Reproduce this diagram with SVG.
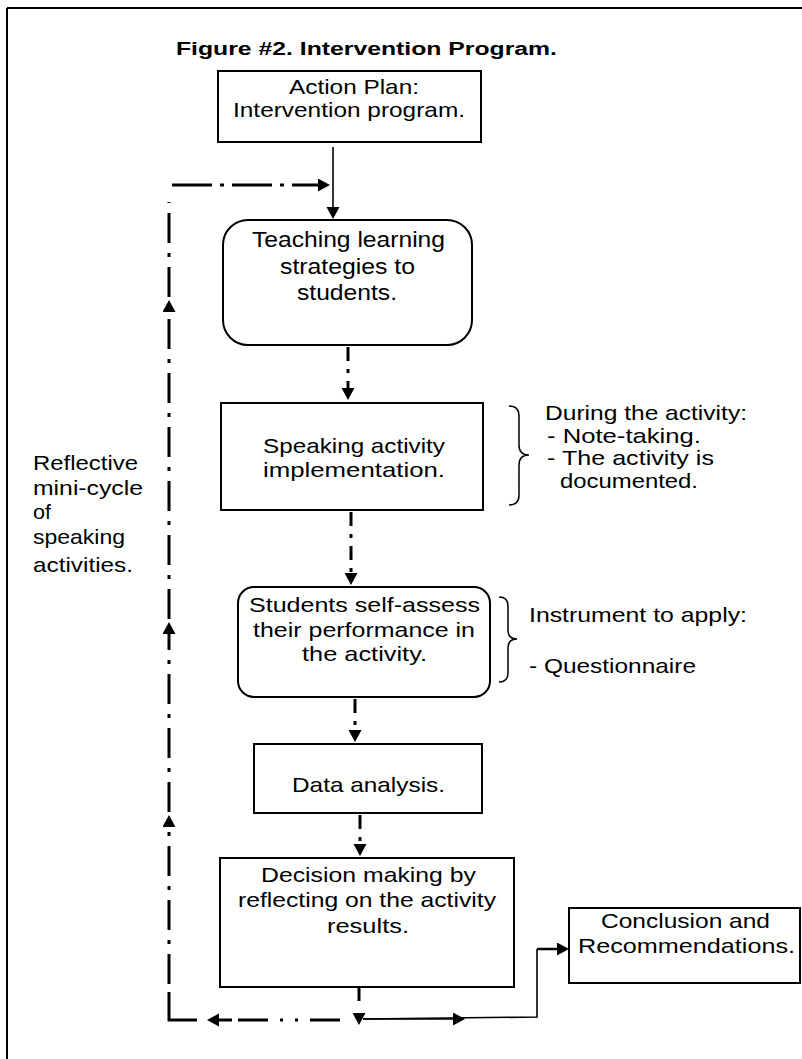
<svg xmlns="http://www.w3.org/2000/svg" width="802" height="1059" viewBox="0 0 802 1059">
<style>
.t{font-family:"Liberation Sans",Arial,sans-serif;font-size:21px;fill:#000}
.b{font-weight:bold;font-size:18px}
.box{fill:#fff;stroke:#000;stroke-width:2}
.dd{fill:none;stroke:#000;stroke-width:3;stroke-dasharray:30 10 4 10}
.dm{fill:none;stroke:#000;stroke-width:3;stroke-dasharray:14 8 4 8}
.sl{fill:none;stroke:#000;stroke-width:1.6}
.br{fill:none;stroke:#000;stroke-width:1.5}
</style>
<defs>
<marker id="ah" markerUnits="userSpaceOnUse" markerWidth="14" markerHeight="14" refX="4" refY="6.5" orient="auto">
<path d="M0,0 L12,6.5 L0,13 z" fill="#000"/>
</marker>
</defs>
<g id="frame">
<line x1="7" y1="8" x2="802" y2="8" stroke="#000" stroke-width="2"/>
<line x1="7" y1="8" x2="7" y2="1059" stroke="#000" stroke-width="2"/>
</g>
<text class="t b" x="176" y="55" textLength="381" lengthAdjust="spacingAndGlyphs">Figure #2. Intervention Program.</text>
<g id="connectors">
<path class="sl" d="M333 147 V211" marker-end="url(#ah)"/>
<path class="dd" d="M172 185 H322" marker-end="url(#ah)" style="stroke-dasharray:40 8 4 8"/>
<path class="dm" d="M348 347 V392" marker-end="url(#ah)"/>
<path class="dm" d="M351 512 V577" marker-end="url(#ah)"/>
<path class="dm" d="M355 699 V734" marker-end="url(#ah)"/>
<path class="dm" d="M360 815 V848" marker-end="url(#ah)"/>
<path class="dm" d="M359 988 V1017" marker-end="url(#ah)" style="stroke-dasharray:13 30"/>
<path class="dd" d="M340 1020 H238" style="stroke-dasharray:30 12 3 12 3 12 30"/>
<path class="dd" d="M232 1020 H215" marker-end="url(#ah)" style="stroke-dasharray:none"/>
<path fill="none" stroke="#000" stroke-width="3" d="M197 1020 H169 V992"/>
<path class="dd" d="M169 984 V823" marker-end="url(#ah)"/>
<path class="dd" d="M169 812 V630" marker-end="url(#ah)"/>
<path class="dd" d="M169 619 V308" marker-end="url(#ah)"/>
<path class="dd" d="M169 297 V202"/>
<path class="sl" d="M363 1019 L537 1017 V949"/>
<path class="sl" d="M363 1019 H457" marker-end="url(#ah)"/>
<path fill="none" stroke="#000" stroke-width="2.5" d="M537 949 H561" marker-end="url(#ah)"/>
</g>
<g id="action-plan">
<rect class="box" x="218" y="71" width="263" height="71"/>
<text class="t" x="289" y="94" textLength="130" lengthAdjust="spacingAndGlyphs">Action Plan:</text>
<text class="t" x="233" y="117" textLength="232" lengthAdjust="spacingAndGlyphs">Intervention program.</text>
</g>
<g id="teaching">
<rect class="box" x="223" y="220" width="249" height="125" rx="25"/>
<text class="t" style="font-size:22px" x="252" y="247" textLength="193" lengthAdjust="spacingAndGlyphs">Teaching learning</text>
<text class="t" style="font-size:22px" x="280" y="274" textLength="135" lengthAdjust="spacingAndGlyphs">strategies to</text>
<text class="t" style="font-size:22px" x="297" y="300" textLength="100" lengthAdjust="spacingAndGlyphs">students.</text>
</g>
<g id="speaking">
<rect class="box" x="221" y="403" width="262" height="107"/>
<text class="t" x="263" y="453" textLength="182" lengthAdjust="spacingAndGlyphs">Speaking activity</text>
<text class="t" x="263" y="477" textLength="182" lengthAdjust="spacingAndGlyphs">implementation.</text>
</g>
<g id="during-note">
<path class="br" d="M509 406 Q519 406 519 416 V445 Q519 455 529 455 Q519 455 519 465 V495 Q519 505 509 505"/>
<text class="t" x="545" y="420" textLength="202" lengthAdjust="spacingAndGlyphs">During the activity:</text>
<text class="t" x="547" y="443" textLength="154" lengthAdjust="spacingAndGlyphs">- Note-taking.</text>
<text class="t" x="547" y="465" textLength="167" lengthAdjust="spacingAndGlyphs">- The activity is</text>
<text class="t" x="560" y="488" textLength="138" lengthAdjust="spacingAndGlyphs">documented.</text>
</g>
<g id="reflective-label">
<text class="t" x="33" y="470" textLength="105" lengthAdjust="spacingAndGlyphs">Reflective</text>
<text class="t" x="33" y="495" textLength="110" lengthAdjust="spacingAndGlyphs">mini-cycle</text>
<text class="t" x="33" y="519" textLength="18" lengthAdjust="spacingAndGlyphs">of</text>
<text class="t" x="33" y="544" textLength="92" lengthAdjust="spacingAndGlyphs">speaking</text>
<text class="t" x="33" y="572" textLength="100" lengthAdjust="spacingAndGlyphs">activities.</text>
</g>
<g id="students">
<rect class="box" x="238" y="587" width="252" height="110" rx="16"/>
<text class="t" x="249" y="612" textLength="231" lengthAdjust="spacingAndGlyphs">Students self-assess</text>
<text class="t" x="253" y="637" textLength="222" lengthAdjust="spacingAndGlyphs">their performance in</text>
<text class="t" x="302" y="661" textLength="125" lengthAdjust="spacingAndGlyphs">the activity.</text>
</g>
<g id="instrument-note">
<path class="br" d="M499 597 Q508 597 508 606 V630 Q508 639 517 639 Q508 639 508 648 V673 Q508 682 499 682"/>
<text class="t" x="529" y="622" textLength="218" lengthAdjust="spacingAndGlyphs">Instrument to apply:</text>
<text class="t" x="529" y="673" textLength="167" lengthAdjust="spacingAndGlyphs">- Questionnaire</text>
</g>
<g id="data-analysis">
<rect class="box" x="254" y="744" width="228" height="69"/>
<text class="t" x="292" y="792" textLength="153" lengthAdjust="spacingAndGlyphs">Data analysis.</text>
</g>
<g id="decision">
<rect class="box" x="220" y="858" width="294" height="129"/>
<text class="t" x="261" y="882" textLength="215" lengthAdjust="spacingAndGlyphs">Decision making by</text>
<text class="t" x="238" y="907" textLength="258" lengthAdjust="spacingAndGlyphs">reflecting on the activity</text>
<text class="t" x="327" y="933" textLength="82" lengthAdjust="spacingAndGlyphs">results.</text>
</g>
<g id="conclusion">
<rect class="box" x="569" y="908" width="231" height="75"/>
<text class="t" x="601" y="928" textLength="169" lengthAdjust="spacingAndGlyphs">Conclusion and</text>
<text class="t" x="578" y="953" textLength="217" lengthAdjust="spacingAndGlyphs">Recommendations.</text>
</g>
</svg>
